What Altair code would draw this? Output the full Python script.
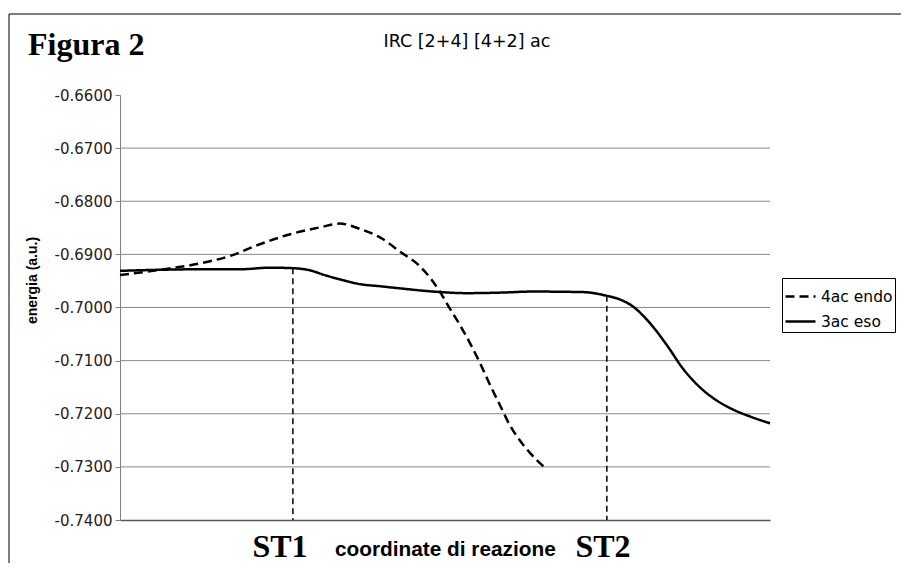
import altair as alt
import pandas as pd

# ---- data ----
series_names = ["4ac endo", "3ac eso"]

x_endo = [0, 6.2, 12.3, 16.9, 21.5, 26.2, 30.8, 33.8, 36.9, 40.0, 43.1, 46.2,
          49.2, 50.8, 52.3, 53.8, 55.4, 56.9, 58.5, 60.0, 61.5, 63.1, 64.6, 65.7]
y_endo = [-0.6939, -0.6929, -0.6917, -0.6903, -0.6881, -0.6862, -0.6849, -0.6842,
          -0.6852, -0.6868, -0.6895, -0.6923, -0.6970, -0.7003, -0.7033, -0.7066,
          -0.7105, -0.7145, -0.7185, -0.7222, -0.7250, -0.7274, -0.7293, -0.7304]

x_eso = [0, 6.2, 12.3, 18.5, 23.1, 26.6, 29.2, 31.5, 33.8, 36.9, 40.0, 43.1,
         48.2, 53.4, 58.5, 63.5, 71.2, 73.8, 74.9, 76.5, 78.9, 81.5, 84.2, 86.6,
         89.2, 91.8, 94.3, 96.9, 100]
y_eso = [-0.6931, -0.6929, -0.6928, -0.6928, -0.6925, -0.6926, -0.6930, -0.6939,
         -0.6947, -0.6956, -0.6960, -0.6964, -0.6970, -0.6973, -0.6972, -0.6970,
         -0.6971, -0.6975, -0.6978, -0.6983, -0.6998, -0.7029, -0.7072, -0.7115,
         -0.7150, -0.7175, -0.7192, -0.7205, -0.7218]

st_labels = ["ST1", "ST2"]
st_x = [26.6, 74.9]
st_top = [-0.6926, -0.6978]

y_ticks = [-0.66, -0.67, -0.68, -0.69, -0.70, -0.71, -0.72, -0.73, -0.74]
grid_vals = [-0.67, -0.68, -0.69, -0.70, -0.71, -0.72, -0.73]
y_min, y_max = -0.74, -0.66
x_min, x_max = 0, 100

# ---- build tables ----
curves = pd.concat([
    pd.DataFrame({"serie": series_names[0], "x": x_endo, "y": y_endo, "o": range(len(x_endo))}),
    pd.DataFrame({"serie": series_names[1], "x": x_eso, "y": y_eso, "o": range(len(x_eso))}),
])
st_df = pd.DataFrame({"st": st_labels, "x": st_x, "top": st_top, "bottom": [y_min] * 2})
grid_df = pd.DataFrame({"g": grid_vals})
one = pd.DataFrame({"t": [0]})

W, H = 650, 425
PL, PT = 112, 87
TW, TH = 895, 555

xs = alt.Scale(domain=[x_min, x_max], nice=False, zero=False)
ys = alt.Scale(domain=[y_min, y_max], nice=False, zero=False)

grid = alt.Chart(grid_df).mark_rule(color="#8a8a8a", strokeWidth=1).encode(
    y=alt.Y("g:Q", scale=ys), x=alt.value(0), x2=alt.value(W)
)

lines = alt.Chart(curves).mark_line(color="black", strokeWidth=2.5, interpolate="monotone").encode(
    x=alt.X("x:Q", scale=xs,
            axis=alt.Axis(labels=False, ticks=False, title=None, grid=False,
                          domainColor="#555555", domainWidth=1.5)),
    y=alt.Y("y:Q", scale=ys,
            axis=alt.Axis(values=y_ticks, grid=False, tickSize=5,
                          labelExpr="replace(format(datum.value, '.4f'), '\u2212', '-')",
                          tickColor="#808080", domainColor="#808080", labelPadding=3,
                          labelFont="DejaVu Sans", labelFontSize=15, labelColor="#222222",
                          title="energia (a.u.)", titleFont="Liberation Sans",
                          titleFontSize=14, titleFontWeight="bold", titleColor="black",
                          titleX=-81, titleY=185, titleAngle=270, titleBaseline="bottom")),
    strokeDash=alt.StrokeDash("serie:N",
        scale=alt.Scale(domain=series_names, range=[[9, 5], [1, 0]]),
        legend=alt.Legend(title=None, orient="none", legendX=662, legendY=183,
                          symbolType="stroke", symbolSize=900, symbolStrokeWidth=2.5,
                          symbolStrokeColor="black", labelFont="DejaVu Sans",
                          labelFontSize=15.5, labelColor="black", labelOffset=4,
                          strokeColor="black", padding=2, rowPadding=0,
                          fillColor="white")),
    order="o:Q",
)

st_rules = alt.Chart(st_df).mark_rule(color="black", strokeWidth=1.5, strokeDash=[6, 4]).encode(
    x=alt.X("x:Q", scale=xs), y=alt.Y("top:Q", scale=ys), y2="bottom:Q"
)

def note(text, x, y, font, size, weight="normal", align="left"):
    return alt.Chart(one).mark_text(text=text, font=font, fontSize=size, fontWeight=weight,
                                    align=align, baseline="alphabetic", color="black").encode(
        x=alt.value(x), y=alt.value(y))

frame_v = alt.Chart(one).mark_rule(color="black", strokeWidth=1).encode(
    x=alt.value(-111), y=alt.value(-81), y2=alt.value(TH - PT))
frame_h = alt.Chart(one).mark_rule(color="black", strokeWidth=1).encode(
    x=alt.value(-111), x2=alt.value(TW - PL - 2), y=alt.value(-81))

layers = [
    frame_v, frame_h, grid, st_rules, lines,
    note("Figura 2", -92, -40, "Liberation Serif", 32, "bold"),
    note("IRC [2+4] [4+2] ac", 347, -48, "DejaVu Sans", 17.5, align="center"),
    note("ST1", 160, 462, "Liberation Serif", 32, "bold", align="center"),
    note("coordinate di reazione", 215, 461, "Liberation Sans", 20.8, "bold"),
    note("ST2", 483, 462, "Liberation Serif", 32, "bold", align="center"),
]

chart = alt.layer(*layers).properties(
    width=W, height=H,
    padding={"left": PL, "top": PT, "right": TW - W - PL, "bottom": TH - H - PT},
    autosize=alt.AutoSizeParams(type="none"),
    background="white",
).configure_view(stroke=None)

chart.save("out.html", embed_options={"renderer": "svg", "actions": False})
